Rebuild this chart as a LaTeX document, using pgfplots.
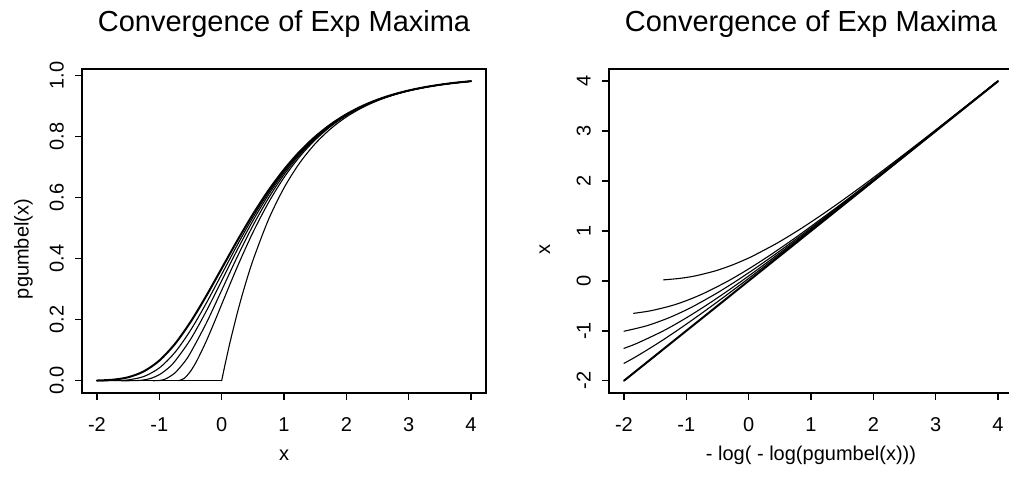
\documentclass[border=0pt]{standalone}
\usepackage{fontspec}
\setmainfont{Liberation Sans}
\usepackage{pgfplots}
\pgfplotsset{compat=1.18}

\pgfplotsset{
  rpanel/.style={
    scale only axis,
    width=404pt, height=323.5pt,
    xmin=-2.24, xmax=4.24,
    axis line style={line width=1.7pt},
    tick style={line width=1.5pt, black},
    major tick length=7pt,
    tick align=outside,
    xtick pos=bottom, ytick pos=left,
    xtick={-2,-1,0,1,2,3,4},
    xticklabels={-2,-1,0,1,2,3,4},
    xticklabel style={font=\fontsize{20}{24}\selectfont, anchor=base, yshift=-31.3pt},
    yticklabel style={font=\fontsize{20}{24}\selectfont, xshift=-11.4pt, rotate=90, anchor=base},
    cycle list={{black}},
    every axis plot/.append style={black, no markers, line width=1.1pt, line cap=round, line join=round},
  },
  limit/.style={line width=2pt},
}

\begin{document}
\begin{tikzpicture}[x=1pt,y=1pt]
\useasboundingbox (0,0) rectangle (1009,480);
\clip (0,0) rectangle (1009,480);

% distribution functions of the centred maxima, n = 1, 2, 3, 5, 10, and the Gumbel limit
\begin{axis}[rpanel, at={(82pt,87.3pt)}, anchor=south west,
  ymin=-0.0393, ymax=1.0212,
  ytick={0,0.2,0.4,0.6,0.8,1},
  yticklabels={0.0,0.2,0.4,0.6,0.8,1.0}]
% Gumbel
\addplot[limit, smooth] coordinates {(-2,0.0006) (-1.75,0.0032) (-1.5,0.0113) (-1.25,0.0305) (-1,0.0660) (-0.75,0.1204) (-0.5,0.1923) (-0.25,0.2769) (0,0.3679) (0.25,0.4589) (0.5,0.5452) (0.75,0.6235) (1,0.6922) (1.25,0.7509) (1.5,0.8000) (1.75,0.8405) (2,0.8734) (2.25,0.9000) (2.5,0.9212) (2.75,0.9381) (3,0.9514) (3.25,0.9619) (3.5,0.9702) (3.75,0.9768) (4,0.9819)};
% n = 1
\addplot[sharp plot] coordinates {(-2,0) (0,0)};
\addplot[smooth] coordinates {(0,0) (0.05,0.0488) (0.1,0.0952) (0.15,0.1393) (0.25,0.2212) (0.35,0.2953) (0.5,0.3935) (0.75,0.5276) (1,0.6321) (1.25,0.7135) (1.5,0.7769) (1.75,0.8262) (2,0.8647) (2.25,0.8946) (2.5,0.9179) (2.75,0.9361) (3,0.9502) (3.25,0.9612) (3.5,0.9698) (3.75,0.9765) (4,0.9817)};
% n = 2
\addplot[sharp plot] coordinates {(-2,0) (-0.6931,0)};
\addplot[smooth] coordinates {(-0.6931,0) (-0.6,0.0079) (-0.5,0.0309) (-0.4,0.0646) (-0.25,0.1282) (-0.1,0.2002) (0,0.25) (0.25,0.3728) (0.5,0.4854) (0.75,0.5834) (1,0.6660) (1.25,0.7340) (1.5,0.7893) (1.75,0.8338) (2,0.8692) (2.25,0.8974) (2.5,0.9196) (2.75,0.9371) (3,0.9508) (3.25,0.9616) (3.5,0.9700) (3.75,0.9766) (4,0.9818)};
% n = 3
\addplot[sharp plot] coordinates {(-2,0) (-1.0986,0)};
\addplot[smooth] coordinates {(-1.0986,0) (-1.0,0.0008) (-0.9,0.0058) (-0.75,0.0255) (-0.6,0.0605) (-0.5,0.0914) (-0.25,0.1872) (0,0.2963) (0.25,0.4059) (0.5,0.5078) (0.75,0.5981) (1,0.6754) (1.25,0.7400) (1.5,0.7930) (1.75,0.8361) (2,0.8707) (2.25,0.8983) (2.5,0.9201) (2.75,0.9375) (3,0.9510) (3.25,0.9617) (3.5,0.9701) (3.75,0.9767) (4,0.9818)};
% n = 5
\addplot[sharp plot] coordinates {(-2,0) (-1.6094,0)};
\addplot[smooth] coordinates {(-1.6094,0) (-1.5,0.0000) (-1.35,0.0006) (-1.25,0.0025) (-1.125,0.0083) (-1.0,0.0198) (-0.875,0.0381) (-0.75,0.0637) (-0.5,0.1353) (-0.25,0.2267) (0,0.3277) (0.25,0.4289) (0.5,0.5238) (0.75,0.6088) (1,0.6824) (1.25,0.7445) (1.5,0.7959) (1.75,0.8379) (2,0.8718) (2.25,0.8989) (2.5,0.9205) (2.75,0.9377) (3,0.9512) (3.25,0.9618) (3.5,0.9702) (3.75,0.9767) (4,0.9818)};
% n = 10
\addplot[smooth] coordinates {(-2,0) (-1.875,0.0000) (-1.75,0.0002) (-1.625,0.0008) (-1.5,0.0026) (-1.25,0.0137) (-1,0.0419) (-0.75,0.0927) (-0.5,0.1650) (-0.25,0.2530) (0,0.3487) (0.25,0.4445) (0.5,0.5349) (0.75,0.6164) (1,0.6874) (1.25,0.7477) (1.5,0.7980) (1.75,0.8392) (2,0.8727) (2.25,0.8995) (2.5,0.9209) (3,0.9513) (3.5,0.9702) (4,0.9819)};
\end{axis}

% Gumbel probability plot: x against -log(-log F_n(x))
\begin{axis}[rpanel, at={(609pt,87.3pt)}, anchor=south west,
  ymin=-2.24, ymax=4.24,
  ytick={-2,-1,0,1,2,3,4},
  yticklabels={-2,-1,0,1,2,3,4}]
\addplot[limit, sharp plot] coordinates {(-2,-2) (4,4)};
% n = 1
\addplot[smooth] coordinates {(-1.3665,0.02) (-1.1055,0.05) (-0.8554,0.1) (-0.5352,0.2) (-0.3003,0.3) (-0.1040,0.4) (0.0696,0.5) (0.4473,0.75) (0.7794,1) (1.0860,1.25) (1.3764,1.5) (1.6561,1.75) (1.9282,2) (2.4575,2.5) (2.9746,3) (3.4848,3.5) (3.9906,4)};
% n = 2
\addplot[smooth] coordinates {(-1.8452,-0.65) (-1.5768,-0.6) (-1.2466,-0.5) (-1.0080,-0.4) (-0.7200,-0.25) (-0.3266,0) (0.0134,0.25) (0.3247,0.5) (0.6182,0.75) (0.9001,1) (1.4414,1.5) (1.9651,2) (2.4792,2.5) (2.9875,3) (3.4922,3.5) (3.9954,4)};
% n = 3
\addplot[smooth] coordinates {(-2.0,-1.009) (-1.6375,-0.9) (-1.3001,-0.75) (-1.0314,-0.6) (-0.8725,-0.5) (-0.5163,-0.25) (-0.1959,0) (0.1035,0.25) (0.3892,0.5) (0.6654,0.75) (0.9352,1) (1.4616,1.5) (1.9770,2) (2.4863,2.5) (2.9913,3) (3.4945,3.5) (3.9976,4)};
% n = 5
\addplot[smooth] coordinates {(-2.0,-1.351) (-1.7898,-1.25) (-1.3668,-1) (-1.0127,-0.75) (-0.6934,-0.5) (-0.3947,-0.25) (-0.1095,0) (0.1665,0.25) (0.4361,0.5) (0.7007,0.75) (0.9620,1) (1.4774,1.5) (1.9863,2) (2.4913,2.5) (2.9947,3) (3.4965,3.5) (3.9992,4)};
% n = 10
\addplot[smooth] coordinates {(-2.0,-1.653) (-1.7825,-1.5) (-1.4570,-1.25) (-1.1544,-1) (-0.8666,-0.75) (-0.5888,-0.5) (-0.3179,-0.25) (-0.0522,0) (0.2097,0.25) (0.4689,0.5) (0.7259,0.75) (0.9814,1) (1.4890,1.5) (1.9934,2) (2.4958,2.5) (2.9973,3) (3.4982,3.5) (3.9997,4)};
\end{axis}

% titles and axis labels
\node[anchor=base, font=\fontsize{29}{34}\selectfont] at (284,448.3) {Convergence of Exp Maxima};
\node[anchor=base, font=\fontsize{29}{34}\selectfont] at (811,448.3) {Convergence of Exp Maxima};
\node[anchor=base, font=\fontsize{20}{24}\selectfont] at (284,19.3) {x};
\node[anchor=base, font=\fontsize{20}{24}\selectfont] at (811,19.3) {- log( - log(pgumbel(x)))};
\node[anchor=base, rotate=90, font=\fontsize{20}{24}\selectfont] at (28.5,231) {pgumbel(x)};
\node[anchor=base, rotate=90, font=\fontsize{20}{24}\selectfont] at (550,231) {x};
\end{tikzpicture}
\end{document}
